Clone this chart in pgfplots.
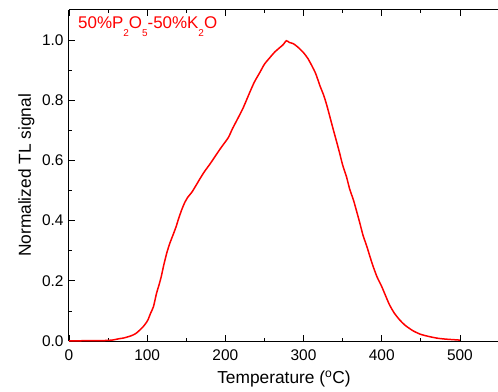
\documentclass[border=0pt]{standalone}
\usepackage{fontspec}
\setmainfont{Liberation Sans}
\usepackage{pgfplots}
\pgfplotsset{compat=1.18}
\newcommand\sub[1]{\raisebox{-0.45em}{\fontsize{10}{12}\selectfont #1}}
\begin{document}
\begin{tikzpicture}
\begin{axis}[
  scale only axis, width=430bp, height=331bp,
  xmin=0, xmax=550, ymin=0, ymax=1.1,
  axis x line=box, axis y line=left,
  axis line style={line width=1bp, -},
  xtick={0,100,200,300,400,500},
  ytick={0,0.2,0.4,0.6,0.8,1.0},
  xtick pos=both, ytick pos=left,
  minor x tick num=1, minor y tick num=1,
  tick align=inside,
  major tick length=6bp, minor tick length=3bp,
  every tick/.style={line width=0.8bp, black},
  /pgf/number format/assume math mode=true,
  yticklabel style={/pgf/number format/.cd, fixed, fixed zerofill, precision=1, /tikz/.cd, font=\fontsize{15.5}{18}\selectfont, xshift=-2bp},
  xticklabel style={font=\fontsize{15.5}{18}\selectfont, yshift=-5.5bp},
  xlabel={Temperature (\textsuperscript{o}C)},
  ylabel={Normalized TL signal},
  xlabel style={font=\fontsize{17.4}{20}\selectfont, at={(axis description cs:0.5,-0.1299)}, anchor=base},
  ylabel style={font=\fontsize{17.4}{20}\selectfont, at={(axis description cs:-0.0884,0.5)}, anchor=base, rotate=0},
  clip=true,
]
\addplot[red, line width=1.5bp, smooth, tension=0.4] coordinates {
(0,0.000) (20,0.001) (40,0.001) (55,0.003) (61,0.006) (65,0.008) (70,0.010)
(78,0.016) (82,0.020) (86,0.026) (90,0.035) (95,0.048) (98,0.058) (101,0.070)
(104,0.090) (108,0.114) (112,0.159) (115,0.185) (118,0.214) (121,0.250)
(125,0.292) (129,0.325) (133,0.352) (137,0.380) (140,0.405) (144,0.435)
(148,0.460) (152,0.478) (157,0.494) (162,0.515) (167,0.537) (173,0.562)
(180,0.587) (186,0.610) (193,0.637) (198,0.655) (204,0.677) (209,0.705)
(214,0.730) (219,0.755) (223,0.776) (231,0.825) (237,0.860) (244,0.892)
(250,0.920) (257,0.942) (263,0.960) (270,0.976) (274,0.985) (278,0.998)
(282,0.992) (287,0.988) (293,0.976) (300,0.958) (306,0.937) (315,0.892)
(321,0.848) (326,0.815) (330,0.781) (334,0.742) (338,0.703) (342,0.665)
(346,0.626) (350,0.585) (355,0.545) (359,0.505) (364,0.467) (368,0.430)
(372,0.392) (376,0.352) (381,0.314) (385,0.280) (389,0.248) (394,0.213)
(400,0.181) (405,0.150) (410,0.120) (416,0.093) (423,0.070) (430,0.052)
(440,0.034) (450,0.022) (462,0.014) (472,0.009) (483,0.006) (500,0.003)
};
\node[anchor=base west, inner sep=0, text=red, font=\fontsize{17}{20}\selectfont]
  at (axis description cs:0.0209,0.9426) {50\%P\sub{2}O\sub{5}-50\%K\sub{2}O};
\coordinate (ll) at (axis description cs:0,0);
\end{axis}
\pgfresetboundingbox
\path[use as bounding box] ([xshift=-69bp,yshift=-51bp]ll) rectangle ([xshift=429bp,yshift=341bp]ll);
\end{tikzpicture}
\end{document}
